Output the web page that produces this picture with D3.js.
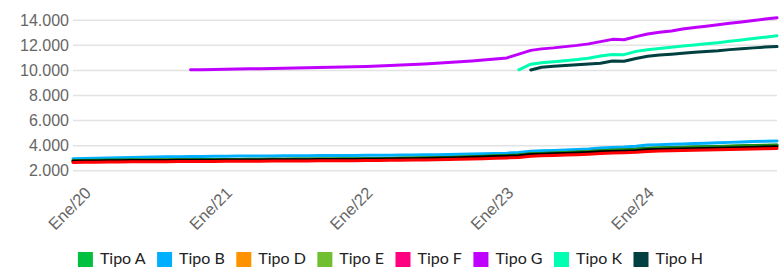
<!DOCTYPE html>
<html><head><meta charset="utf-8">
<script src="https://cdn.jsdelivr.net/npm/d3@7"></script>
<style>body{margin:0;background:#fff}svg{display:block}</style>
</head><body>
<svg id="c" width="779" height="268"></svg>
<script>
// months from Nov 2019 to Nov 2024 (61 points)
const startMonth = [2019, 10];
const nMonths = 61;
const yTicks = [2000, 4000, 6000, 8000, 10000, 12000, 14000];
const xTickLabels = ["Ene/20", "Ene/21", "Ene/22", "Ene/23", "Ene/24"];
const xTickYears = [2020, 2021, 2022, 2023, 2024];

const seriesNames = ["Tipo A", "Tipo B", "Tipo D", "Tipo E", "Tipo F", "Tipo G", "Tipo K", "Tipo H"];
const legendColors = ["#00c040", "#00b0ff", "#ff9200", "#70bf30", "#ff0080", "#c000ff", "#00ffb0", "#004040"];
const lineColors = ["#1a8a1a", "#00b0ff", "#000000", "#1a8a1a", "#ff0000", "#c000ff", "#00ffb0", "#004040"];

const tipoA = [2810,2820,2830,2840,2850,2855,2860,2865,2870,2875,2880,
  2885,2890,2895,2900,2905,2910,2915,2920,2925,2930,
  2935,2940,2945,2950,2960,2970,2980,2995,3010,3025,
  3040,3060,3090,3120,3150,3180,3210,3260,
  3350,3380,3410,3450,3490,3530,3600,3640,3670,3720,3790,3820,3850,3870,3900,3920,3940,3960,3990,4010,4030,4050];
const tipoB = [2960,2980,3000,3020,3040,3060,3080,3100,3110,3120,3130,
  3140,3150,3160,3165,3170,3175,3180,3185,3190,3200,
  3205,3210,3215,3220,3225,3230,3240,3250,3260,3270,
  3280,3300,3320,3340,3360,3380,3400,3450,
  3560,3590,3620,3650,3690,3740,3820,3860,3890,3950,4050,4080,4110,4140,4170,4200,4230,4260,4290,4320,4345,4370];
const tipoD = [2760,2770,2780,2790,2800,2805,2810,2815,2820,2825,2830,
  2835,2840,2845,2850,2855,2860,2865,2870,2875,2880,
  2885,2890,2895,2900,2910,2920,2930,2945,2960,2975,
  2990,3010,3040,3070,3100,3130,3160,3200,
  3290,3320,3350,3380,3410,3450,3510,3540,3560,3600,3670,3700,3720,3740,3760,3780,3800,3820,3840,3860,3890,3910];
const tipoE = [2800,2810,2820,2830,2840,2845,2850,2855,2860,2865,2870,
  2875,2880,2885,2890,2895,2900,2905,2910,2915,2920,
  2925,2930,2935,2940,2950,2960,2970,2985,3000,3015,
  3030,3050,3080,3110,3140,3170,3200,3250,
  3340,3370,3400,3440,3480,3520,3590,3630,3660,3710,3780,3810,3840,3860,3890,3910,3930,3950,3980,4000,4020,4040];
const tipoF = [2660,2670,2680,2690,2700,2705,2710,2715,2720,2725,2730,
  2735,2740,2745,2750,2755,2760,2765,2770,2775,2780,
  2785,2790,2795,2800,2810,2820,2830,2840,2850,2860,
  2880,2900,2920,2940,2960,2990,3020,3060,
  3160,3190,3220,3250,3280,3320,3380,3410,3430,3470,3540,3570,3600,3620,3640,3660,3680,3700,3720,3740,3760,3780];
const tipoG = [null,null,null,null,null,null,null,null,null,null,
  10050,10060,10080,10090,10110,10130,10140,10160,10170,10190,
  10210,10230,10250,10270,10290,10320,10350,10390,10430,10470,
  10520,10580,10640,10690,10760,10830,10910,11000,11300,11600,
  11720,11800,11900,12000,12120,12300,12480,12450,12700,12900,
  13050,13150,13300,13420,13530,13640,13760,13870,13980,14100,14200];
const tipoK = [null,null,null,null,null,null,null,null,null,null,
  null,null,null,null,null,null,null,null,null,null,
  null,null,null,null,null,null,null,null,null,null,
  null,null,null,null,null,null,null,null,10050,10500,
  10620,10700,10780,10870,10980,11150,11280,11260,11520,11650,
  11750,11850,11950,12030,12120,12200,12320,12420,12540,12650,12770];
const tipoH = [null,null,null,null,null,null,null,null,null,null,
  null,null,null,null,null,null,null,null,null,null,
  null,null,null,null,null,null,null,null,null,null,
  null,null,null,null,null,null,null,null,null,10040,
  10260,10330,10400,10460,10520,10580,10750,10730,10950,11130,
  11230,11300,11380,11450,11520,11580,11660,11730,11800,11860,11900];

const seriesValues = [tipoA, tipoB, tipoD, tipoE, tipoF, tipoG, tipoK, tipoH];
const drawOrder = [1, 3, 0, 2, 4, 5, 6, 7];

const dates = d3.range(nMonths).map(i => new Date(startMonth[0], startMonth[1] + i, 15));

const svg = d3.select("#c");
const mLeft = 73, mRight = 777, mTop = 20.3, mBottom = 170.7;
const x = d3.scaleTime().domain([dates[0], dates[nMonths - 1]]).range([mLeft, mRight]);
const y = d3.scaleLinear().domain([2000, 14000]).range([mBottom, mTop]);

const fmt = v => d3.format(",")(v).replace(/,/g, ".");

// grid
svg.append("g").selectAll("line").data(yTicks).join("line")
  .attr("x1", mLeft).attr("x2", mRight)
  .attr("y1", d => y(d)).attr("y2", d => y(d))
  .attr("stroke", "#e3e3e3").attr("stroke-width", 1.5);

// y labels
svg.append("g").selectAll("text").data(yTicks).join("text")
  .attr("x", 69).attr("y", d => y(d)).attr("dy", "0.36em")
  .attr("text-anchor", "end")
  .attr("font-family", "Liberation Sans, Arial, sans-serif")
  .attr("font-size", 16).attr("fill", "#666")
  .text(fmt);

// x labels
svg.append("g").selectAll("text").data(xTickYears).join("text")
  .attr("transform", (d) => `translate(${x(new Date(d, 0, 1)) + 1},194) rotate(-45)`)
  .attr("text-anchor", "end")
  .attr("font-family", "Liberation Sans, Arial, sans-serif")
  .attr("font-size", 16.5).attr("fill", "#666")
  .text((d, i) => xTickLabels[i]);

// lines
const line = d3.line()
  .defined(d => d.v !== null)
  .x(d => x(d.date)).y(d => y(d.v));

drawOrder.forEach(si => {
  const pts = seriesValues[si].map((v, i) => ({date: dates[i], v}));
  svg.append("path").datum(pts)
    .attr("d", line)
    .attr("fill", "none")
    .attr("stroke", lineColors[si])
    .attr("stroke-width", 3)
    .attr("stroke-linejoin", "round")
    .attr("stroke-linecap", "round");
});

// legend
const lg = svg.append("g");
let cx = 0;
seriesNames.forEach((name, i) => {
  const g = lg.append("g").attr("transform", `translate(${cx},0)`);
  g.append("rect").attr("x", 0).attr("y", 252).attr("width", 15).attr("height", 15).attr("fill", legendColors[i]);
  const t = g.append("text").attr("x", 22).attr("y", 264)
    .attr("font-family", "Lato, sans-serif").attr("font-size", 16).attr("fill", "#222").text(name);
  const w = t.node().getComputedTextLength();
  cx += 22 + w + 11.5;
});
const totalW = cx - 11.5;
lg.attr("transform", `translate(${(779 - totalW) / 2 + 1},0)`);
</script>
</body></html>
